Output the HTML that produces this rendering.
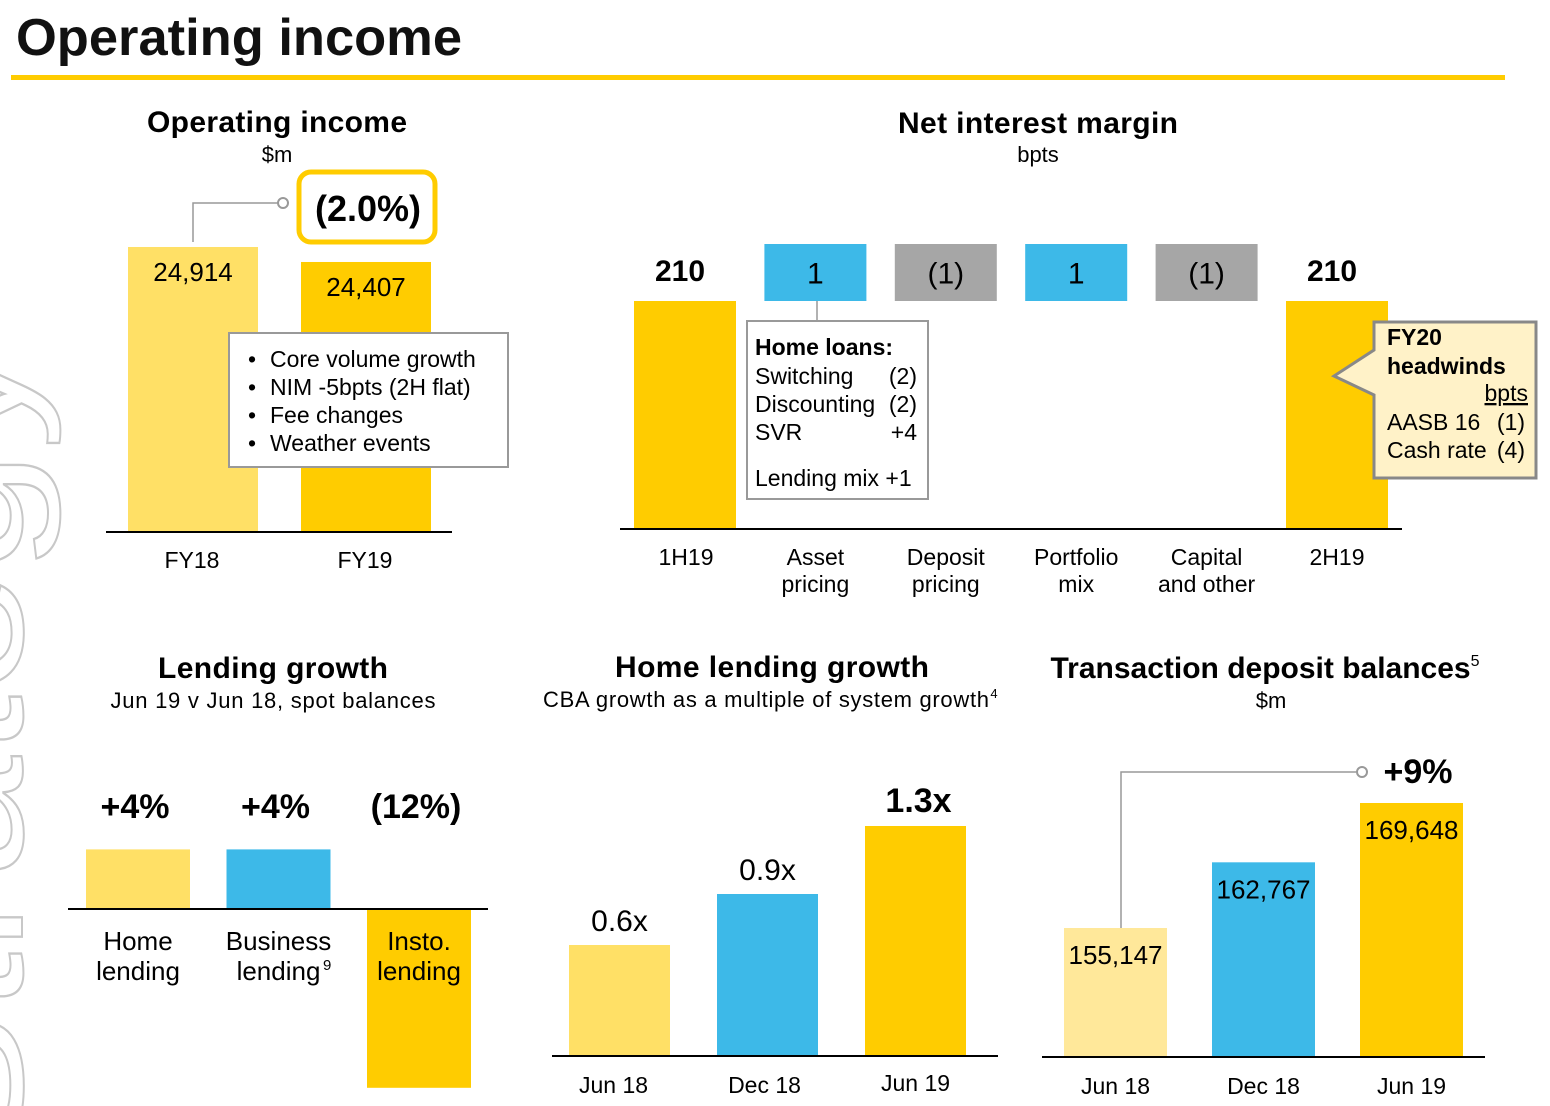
<!DOCTYPE html>
<html><head><meta charset="utf-8"><style>
html,body{margin:0;padding:0;background:#fff;}
svg{display:block;font-family:"Liberation Sans",Arial,sans-serif;}
</style></head><body>
<svg id="s" width="1550" height="1106" viewBox="0 0 1550 1106" xmlns="http://www.w3.org/2000/svg">
<g>
<text transform="translate(22,1160) rotate(-90)" font-size="185" textLength="820" lengthAdjust="spacingAndGlyphs" fill="none" stroke="#c8c8c8" stroke-width="2" font-family="Liberation Sans">Strategy</text>
</g>
<text x="16" y="55" font-size="52" textLength="446" lengthAdjust="spacingAndGlyphs" font-weight="bold" fill="#111">Operating income</text>
<rect x="11" y="75" width="1494" height="5" fill="#FFCC00"/>

<g font-weight="bold" font-size="30" text-anchor="middle" fill="#000">
<text x="277" y="132" textLength="260">Operating income</text>
<text x="1038" y="133" textLength="280">Net interest margin</text>
<text x="273" y="678" textLength="230">Lending growth</text>
<text x="772" y="677" textLength="314">Home lending growth</text>
<text x="1265" y="678">Transaction deposit balances<tspan font-size="16" dy="-12" font-weight="normal">5</tspan></text>
</g>
<g font-size="22" text-anchor="middle" fill="#000">
<text x="277" y="162">$m</text>
<text x="1038" y="162">bpts</text>
<text x="273" y="708" textLength="325">Jun 19 v Jun 18, spot balances</text>
<text x="766" y="707" textLength="446">CBA growth as a multiple of system growth</text>
<text x="994" y="698" font-size="13">4</text>
<text x="1271" y="708">$m</text>
</g>
<g id="charts"></g>
</svg>
<script>
// Operating income
const oiCats=["FY18","FY19"];
const oiVals=[24914,24407];
const oiLabels=["24,914","24,407"];
// NIM waterfall
const nimCats=[["1H19"],["Asset","pricing"],["Deposit","pricing"],["Portfolio","mix"],["Capital","and other"],["2H19"]];
const nimVals=[210,1,-1,1,-1,210];
const nimLabels=["210","1","(1)","1","(1)","210"];
// Lending growth
const lgCats=[["Home","lending"],["Business","lending"],["Insto.","lending"]];
const lgVals=[4,4,-12];
const lgLabels=["+4%","+4%","(12%)"];
// Home lending growth
const hlCats=["Jun 18","Dec 18","Jun 19"];
const hlVals=[0.6,0.9,1.3];
const hlLabels=["0.6x","0.9x","1.3x"];
// Transaction deposits
const tdCats=["Jun 18","Dec 18","Jun 19"];
const tdVals=[155147,162767,169648];
const tdLabels=["155,147","162,767","169,648"];

const NS="http://www.w3.org/2000/svg";
const root=document.getElementById('charts');
function mk(tag,attrs,text){const e=document.createElementNS(NS,tag);for(const k in attrs)e.setAttribute(k,attrs[k]);if(text!==undefined)e.textContent=text;root.appendChild(e);return e;}
const LY="#FFE066",GD="#FFCC00",BL="#3DB9E8",GR="#A6A6A6";
const FS=23;

// ---- Operating income
const oiX=i=>128+i*173, oiW=130, oiBase=532;
const oiY=v=>oiBase-(v-15282)*0.02959;
const oiCol=[LY,GD];
oiVals.forEach((v,i)=>{
 const r=mk('rect',{x:oiX(i),y:oiY(v),width:oiW,height:oiBase-oiY(v),fill:oiCol[i]});
 
 
 const t=mk('text',{x:oiX(i)+oiW/2,y:oiY(v)+34,'font-size':26,'text-anchor':'middle'},oiLabels[i]);
 
 
 const c=mk('text',{x:oiX(i)+oiW/2-1,y:568,'font-size':FS,'text-anchor':'middle'},oiCats[i]);
 
 
});
let e=mk('line',{x1:106,x2:452,y1:oiBase,y2:oiBase,stroke:'#000','stroke-width':2});


e=mk('polyline',{points:`193,${oiY(oiVals[0])-5} 193,203 278,203`,fill:'none',stroke:'#999','stroke-width':1.5});


mk('circle',{cx:283,cy:203,r:5,fill:'#fff',stroke:'#999','stroke-width':2});
e=mk('rect',{x:299,y:172,width:136,height:70,rx:12,fill:'#fff',stroke:GD,'stroke-width':5});


e=mk('text',{x:368,y:221,'font-size':36,'font-weight':'bold','text-anchor':'middle'},'(2.0%)');


e=mk('rect',{x:229,y:333,width:279,height:134,fill:'#fff',stroke:'#999','stroke-width':2});


["Core volume growth","NIM -5bpts (2H flat)","Fee changes","Weather events"].forEach((s,i)=>{
 mk('text',{x:248,y:367+i*28,'font-size':FS},'•');
 const t=mk('text',{x:270,y:367+i*28,'font-size':FS},s);
 
 
});

// ---- NIM
const nimX=i=>634+i*130.4, nimW=102, nimBase=529;
const nimH=v=>v*1.0857;
const stepTop=244, stepH=v=>Math.abs(v)*57;
nimVals.forEach((v,i)=>{
 const x=nimX(i);
 let y,h,col;
 if(i===0||i===nimVals.length-1){h=nimH(v);y=nimBase-h;col=GD;}
 else{h=stepH(v);y=stepTop;col=v>0?BL:GR;}
 const r=mk('rect',{x:x,y:y,width:nimW,height:h,fill:col});
 
 
 const lab=(i===0||i===nimVals.length-1)?mk('text',{x:x+nimW/2-5,y:y-20,'font-size':30,'font-weight':'bold','text-anchor':'middle'},nimLabels[i]):mk('text',{x:x+nimW/2,y:y+h/2+11,'font-size':30,'text-anchor':'middle'},nimLabels[i]);
 
 
 nimCats[i].forEach((s,j)=>{
  const c=mk('text',{x:x+nimW/2+(i===0?1:0),y:565+j*27,'font-size':FS,'text-anchor':'middle'},s);
  
  
 });
});
e=mk('line',{x1:620,x2:1402,y1:nimBase,y2:nimBase,stroke:'#000','stroke-width':2});


mk('line',{x1:817,x2:817,y1:301,y2:321,stroke:'#999','stroke-width':1.5});
e=mk('rect',{x:747,y:321,width:181,height:178,fill:'#fff',stroke:'#999','stroke-width':2});


mk('text',{x:755,y:355,'font-size':FS,'font-weight':'bold'},'Home loans:');
[["Switching","(2)"],["Discounting","(2)"],["SVR","+4"]].forEach((p,i)=>{
 mk('text',{x:755,y:384+i*28,'font-size':FS},p[0]);
 mk('text',{x:917,y:384+i*28,'font-size':FS,'text-anchor':'end'},p[1]);
});
mk('text',{x:755,y:486,'font-size':FS},'Lending mix +1');
e=mk('path',{d:'M1374,322 L1536,322 L1536,478 L1374,478 L1374,395 L1334,376 L1374,350 Z',fill:'#FFF2C8',stroke:'#888','stroke-width':3});


mk('text',{x:1387,y:345,'font-size':FS,'font-weight':'bold'},'FY20');
mk('text',{x:1387,y:374,'font-size':FS,'font-weight':'bold'},'headwinds');
mk('text',{x:1528,y:401,'font-size':FS,'text-anchor':'end','text-decoration':'underline'},'bpts');
mk('text',{x:1387,y:430,'font-size':FS},'AASB 16');
mk('text',{x:1525,y:430,'font-size':FS,'text-anchor':'end'},'(1)');
mk('text',{x:1387,y:458,'font-size':FS},'Cash rate');
mk('text',{x:1525,y:458,'font-size':FS,'text-anchor':'end'},'(4)');

// ---- Lending growth
const lgX=i=>86+i*140.5, lgW=104, lgBase=909;
const lgY=v=>lgBase-v*14.9;
const lgCol=[LY,BL,GD];
lgVals.forEach((v,i)=>{
 const y=Math.min(lgY(v),lgBase), h=Math.abs(lgY(v)-lgBase);
 const r=mk('rect',{x:lgX(i),y:y,width:lgW,height:h,fill:lgCol[i]});
 
 
 const t=mk('text',{x:lgX(i)+lgW/2-3,y:818,'font-size':34,'font-weight':'bold','text-anchor':'middle'},lgLabels[i]);
 
 
 lgCats[i].forEach((s,j)=>{
  const c=mk('text',{x:lgX(i)+lgW/2,y:950+j*30,'font-size':26,'text-anchor':'middle'},s);
  
  
 });
});
mk('text',{x:323,y:970,'font-size':15},'9');
e=mk('line',{x1:68,x2:488,y1:lgBase,y2:lgBase,stroke:'#000','stroke-width':2});



// ---- Home lending growth
const hlX=i=>569+i*148, hlW=101, hlBase=1056;
const hlY=v=>hlBase-(9+v*170);
const hlCol=[LY,BL,GD];
hlVals.forEach((v,i)=>{
 const r=mk('rect',{x:hlX(i),y:hlY(v),width:hlW,height:hlBase-hlY(v),fill:hlCol[i]});
 
 
 const last=i===hlVals.length-1;
 const t=mk('text',{x:hlX(i)+hlW/2+(last?3:0),y:hlY(v)-14,'font-size':last?34:30,'font-weight':last?'bold':'normal','text-anchor':'middle'},hlLabels[i]);
 
 
 const c=mk('text',{x:hlX(i)+hlW/2+3*i-6,y:1093-(last?2:0),'font-size':FS,'text-anchor':'middle'},hlCats[i]);
 
 
});
e=mk('line',{x1:552,x2:998,y1:hlBase,y2:hlBase,stroke:'#000','stroke-width':2});



// ---- Transaction deposits
const tdX=i=>1064+i*148, tdW=103, tdBase=1057;
const tdY=v=>tdBase-(v-140182)*0.00862;
const tdCol=["#FFE89A",BL,GD];
tdVals.forEach((v,i)=>{
 const r=mk('rect',{x:tdX(i),y:tdY(v),width:tdW,height:tdBase-tdY(v),fill:tdCol[i]});
 
 
 const t=mk('text',{x:tdX(i)+tdW/2,y:tdY(v)+36,'font-size':26,'text-anchor':'middle'},tdLabels[i]);
 
 
 const c=mk('text',{x:tdX(i)+tdW/2,y:1094,'font-size':FS,'text-anchor':'middle'},tdCats[i]);
 
 
});
e=mk('line',{x1:1042,x2:1485,y1:tdBase,y2:tdBase,stroke:'#000','stroke-width':2});


mk('polyline',{points:`1121,${tdY(tdVals[0])} 1121,772 1356,772`,fill:'none',stroke:'#999','stroke-width':1.5});
mk('circle',{cx:1362,cy:772,r:5,fill:'#fff',stroke:'#999','stroke-width':2});
e=mk('text',{x:1418,y:783,'font-size':34,'font-weight':'bold','text-anchor':'middle'},'+9%');


</script>
</body></html>
